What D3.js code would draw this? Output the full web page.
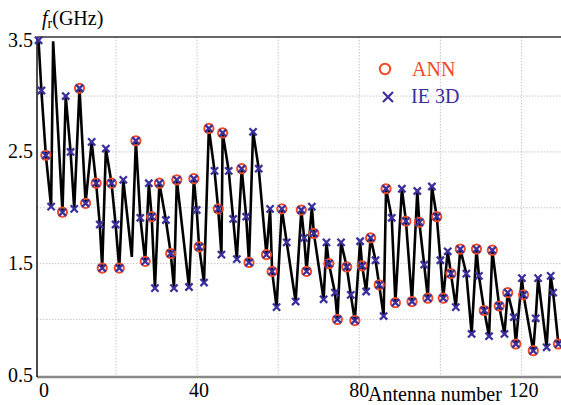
<!DOCTYPE html>
<html><head><meta charset="utf-8">
<script src="https://cdn.jsdelivr.net/npm/d3@7"></script>
<style>body{margin:0;background:#fff}svg{display:block}</style>
</head><body>
<svg id="c" width="561" height="405"></svg>
<script>
// antenna number, curve value, IE3D marker flag, ANN marker flag
const antenna = [0.9,1.6,2.7,4.0,4.5,6.8,7.6,8.8,9.7,11.0,12.5,14.0,15.1,16.0,16.6,17.5,18.9,19.9,20.8,21.8,23.9,24.9,26.0,27.2,28.1,28.8,29.6,30.7,32.3,33.5,34.3,35.0,38.0,39.2,39.9,40.5,41.7,42.9,44.3,45.2,46.0,46.3,47.8,48.9,49.8,51.0,52.1,52.8,53.8,55.2,57.1,58.0,58.5,59.6,60.9,62.1,64.3,65.7,66.4,67.0,68.3,68.8,71.2,71.9,72.5,74.0,74.6,75.5,76.9,77.9,78.9,80.2,80.7,81.7,82.8,84.0,84.9,86.0,86.6,88.0,88.9,90.5,91.5,93.0,94.3,94.8,96.0,96.9,97.9,99.1,100.0,100.7,101.8,102.6,103.8,104.9,106.4,107.7,108.9,109.5,110.8,112.0,112.8,114.5,115.8,116.6,118.1,118.6,120.1,120.5,122.9,123.5,124.1,126.2,127.2,127.8,129.1];
const curve   = [3.50,3.05,2.47,2.01,3.49,1.96,3.00,2.50,1.99,3.07,2.04,2.59,2.22,1.85,1.46,2.53,2.22,1.85,1.46,2.25,1.56,2.60,1.91,1.52,2.22,1.92,1.28,2.22,1.89,1.59,1.28,2.25,1.29,2.26,1.98,1.65,1.33,2.71,2.33,1.99,1.58,2.67,2.33,1.90,1.54,2.35,1.92,1.51,2.68,2.35,1.58,1.99,1.43,1.11,1.99,1.69,1.16,1.98,1.73,1.43,2.01,1.77,1.18,1.69,1.50,1.24,1.00,1.69,1.47,1.22,0.99,1.70,1.48,1.25,1.73,1.53,1.31,1.03,2.17,1.91,1.15,2.17,1.88,1.16,2.15,1.87,1.49,1.19,2.19,1.92,1.53,1.19,1.61,1.41,1.11,1.63,1.41,0.87,1.63,1.39,1.08,0.85,1.62,1.12,0.87,1.24,1.02,0.78,1.37,1.22,0.72,1.01,1.37,0.75,1.39,1.24,0.78];
const hasIE   = [1,1,1,1,0,1,1,1,1,1,1,1,1,1,1,1,1,1,1,1,0,1,1,1,1,1,1,1,1,1,1,1,1,1,1,1,1,1,1,1,1,1,1,1,1,1,1,1,1,1,1,1,1,1,1,1,1,1,1,1,1,1,1,1,1,1,1,1,1,1,1,1,1,1,1,1,1,1,1,1,1,1,1,1,1,1,1,1,1,1,1,1,1,1,1,1,1,1,1,1,1,1,1,1,1,1,1,1,1,1,1,1,1,1,1,1,1];
const hasANN  = [0,0,1,0,0,1,0,0,0,1,1,0,1,0,1,0,1,0,1,0,0,1,0,1,0,1,0,1,0,1,0,1,0,1,0,1,0,1,0,1,0,1,0,0,0,1,0,1,0,0,1,0,1,0,1,0,0,1,0,1,0,1,0,0,1,0,1,0,1,0,1,0,1,0,1,0,1,0,1,0,1,0,1,1,0,1,0,1,0,1,0,1,0,1,0,1,0,0,1,0,1,0,1,1,0,1,0,1,0,1,1,0,0,0,0,0,1];
const yTicks = [0.5,1.5,2.5,3.5];
const yGrid  = [1.0,1.5,2.0,2.5,3.0];
const xTicks = [0,40,80,120];
const xGrid  = [20,40,60,80,100,120];

const FONT = '"Liberation Serif", "Times New Roman", serif';
const svg = d3.select("#c");
const L = 37, T = 37, B = 377, R = 561;
const x = d3.scaleLinear().domain([0,130]).range([34.9, 34.9+130*4.055]);
const y = d3.scaleLinear().domain([0.5,3.5]).range([375.25, 40.25]);
const RED = "#f04a28", BLUE = "#3a2f9b";

// grid
svg.append("g").selectAll("line").data(yGrid).join("line")
  .attr("x1", L).attr("x2", R).attr("y1", d=>y(d)).attr("y2", d=>y(d))
  .attr("stroke","#c8c8c8").attr("stroke-width",1).attr("stroke-dasharray","1.5,1.5");
svg.append("g").selectAll("line").data(xGrid).join("line")
  .attr("x1", d=>x(d)).attr("x2", d=>x(d)).attr("y1", T).attr("y2", B)
  .attr("stroke","#c8c8c8").attr("stroke-width",1).attr("stroke-dasharray","1.5,1.5");

// frame
svg.append("line").attr("x1",L).attr("x2",R).attr("y1",T).attr("y2",T).attr("stroke","#333").attr("stroke-width",1.5);
svg.append("line").attr("x1",L).attr("x2",R).attr("y1",B).attr("y2",B).attr("stroke","#888").attr("stroke-width",2.5);
svg.append("line").attr("x1",L).attr("x2",L).attr("y1",T).attr("y2",B).attr("stroke","#111").attr("stroke-width",1.5);

// tick labels
svg.append("g").selectAll("text").data(yTicks).join("text")
  .attr("x", 33).attr("y", d=>y(d)+6.5).attr("text-anchor","end")
  .style("font-family",FONT).attr("font-size",20).text(d=>d.toFixed(1));
svg.append("g").selectAll("text").data(xTicks).join("text")
  .attr("x", d=> d===0 ? 44 : (d===80 ? x(d) : x(d)+2)).attr("y", 397).attr("text-anchor","middle")
  .style("font-family",FONT).attr("font-size",20).text(d=>d);
svg.append("text").attr("x",368).attr("y",401).style("font-family",FONT).attr("font-size",20).text("Antenna number");

// y title
const t = svg.append("text").attr("x",42).attr("y",25).style("font-family",FONT).attr("font-size",20);
t.append("tspan").attr("font-style","italic").text("f");
t.append("tspan").attr("font-size",14).attr("dy",3).text("r");
t.append("tspan").attr("dy",-3).text("(GHz)");

// data
const pts = antenna.map((a,i)=>({a, v:curve[i], ie:hasIE[i], ann:hasANN[i]}));
const plot = svg.append("g");
plot.append("path").datum(pts)
  .attr("d", d3.line().x(d=>x(d.a)).y(d=>y(d.v)))
  .attr("fill","none").attr("stroke","#000").attr("stroke-width",2.6).attr("stroke-linejoin","miter");

plot.selectAll("circle").data(pts.filter(d=>d.ann)).join("circle")
  .attr("cx",d=>x(d.a)).attr("cy",d=>y(d.v)).attr("r",4.6)
  .attr("fill","none").attr("stroke",RED).attr("stroke-width",2);

const s = 3.6;
plot.selectAll("path.ie").data(pts.filter(d=>d.ie)).join("path").attr("class","ie")
  .attr("transform", d=>`translate(${x(d.a)},${y(d.v)})`)
  .attr("d",`M${-s},${-s}L${s},${s}M${-s},${s}L${s},${-s}`)
  .attr("stroke",BLUE).attr("stroke-width",2.3).attr("fill","none");

// legend
const ls = 5;
svg.append("circle").attr("cx",385).attr("cy",69).attr("r",5.2).attr("fill","none").attr("stroke",RED).attr("stroke-width",2);
svg.append("text").attr("x",412).attr("y",76).attr("fill",RED).style("font-family",FONT).attr("font-size",20).text("ANN");
svg.append("path").attr("d",`M${388-ls},${97-ls}L${388+ls},${97+ls}M${388-ls},${97+ls}L${388+ls},${97-ls}`)
  .attr("stroke",BLUE).attr("stroke-width",2.2);
svg.append("text").attr("x",411).attr("y",103).attr("fill",BLUE).style("font-family",FONT).attr("font-size",20).text("IE 3D");
</script>
</body></html>
